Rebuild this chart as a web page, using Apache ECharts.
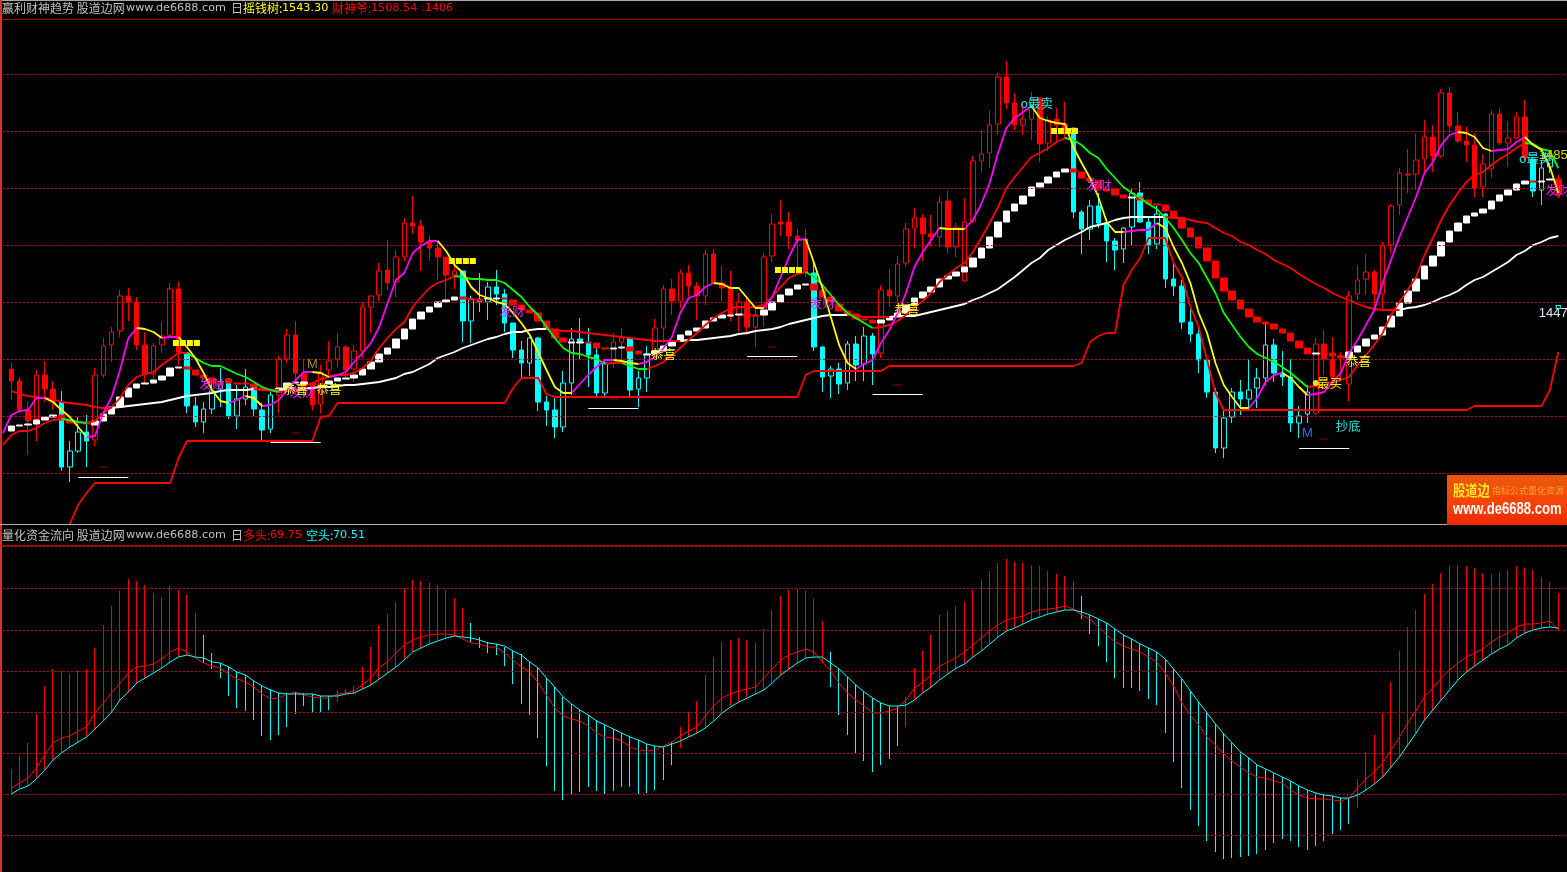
<!DOCTYPE html>
<html><head><meta charset="utf-8">
<style>html,body{margin:0;padding:0;background:#000;overflow:hidden}#c{width:1567px;height:872px}</style>
<script src="https://cdn.jsdelivr.net/npm/echarts@6/dist/echarts.min.js"></script>
</head><body><div id="c"></div>
<script>
// price rows: [open, close, low, high]
const candles = [
[631,619,600,637],[619,590,587,623],[590,579,545,598],[580,625,559,630],[625,611,598,639],[611,598,590,619],[598,533,529,609],[533,549,518,559],[549,568,547,583],[568,559,533,585],
[560,625,554,632],[625,654,622,662],[655,668,638,673],[669,704,663,710],[704,698,679,712],[698,655,650,703],[655,626,617,668],[626,654,621,657],[655,664,647,678],[665,711,663,717],
[711,648,635,718],[647,594,587,647],[594,578,573,603],[578,591,567,598],[591,609,586,622],[611,617,593,632],[621,584,581,621],[584,601,571,615],[601,613,595,631],[615,591,584,615],
[590,570,560,597],[571,605,567,608],[605,641,587,644],[641,665,637,671],[665,627,618,679],[626,615,603,640],[617,595,589,617],[596,628,587,635],[630,639,623,659],[641,653,633,667],
[653,630,623,655],[631,649,618,655],[649,693,642,698],[693,704,667,705],[705,729,699,737],[730,717,710,760],[718,743,703,750],[743,777,739,782],[777,774,766,804],[774,758,729,780],
[758,752,739,764],[752,743,720,758],[743,725,699,743],[725,729,711,737],[729,679,658,729],[679,701,657,704],[701,698,688,727],[698,713,680,718],[713,706,695,730],[706,677,668,711],
[677,650,642,677],[650,637,623,659],[637,662,624,663],[662,598,589,663],[598,590,574,604],[590,573,562,602],[573,617,568,629],[617,661,605,672],[661,658,641,682],[657,645,613,672],
[645,607,604,652],[607,637,602,639],[637,658,632,667],[658,662,638,672],[662,610,604,662],[611,622,593,629],[622,646,608,654],[647,672,645,681],[672,711,657,715],[711,699,685,721],
[699,727,692,731],[727,714,703,735],[714,704,680,718],[704,746,695,750],[746,717,717,751],[717,712,699,734],[712,684,679,729],[685,698,668,707],[698,673,665,703],[673,685,653,693],
[685,743,673,747],[744,776,738,786],[778,776,764,800],[778,764,751,788],[764,760,727,771],[761,728,723,771],[727,653,649,737],[653,623,608,654],[624,631,602,634],[631,616,606,637],
[617,656,610,659],[656,635,619,664],[636,664,619,673],[664,646,615,667],[647,710,642,715],[710,704,693,731],[704,736,693,744],[737,771,733,777],[772,782,752,792],[782,766,739,786],
[766,763,753,785],[763,798,753,804],[799,753,747,809],[753,773,743,777],[719,778,718,802],[779,839,777,844],[839,846,828,870],[847,875,832,889],[876,923,865,927],[923,897,891,939],
[897,875,870,907],[875,881,865,896],[881,902,860,908],[902,856,838,902],[857,880,849,884],[881,875,857,892],[876,867,862,898],[872,788,782,872],[788,771,746,790],[771,794,760,800],
[794,777,772,807],[777,759,738,782],[759,750,730,762],[751,772,737,773],[773,807,754,811],[807,778,777,818],[778,755,746,783],[756,786,751,794],[786,721,712,787],[721,714,704,737],
[714,678,671,720],[678,666,658,693],[666,640,627,673],[640,608,602,640],[608,552,547,612],[552,582,542,589],[583,608,577,612],[608,601,585,620],[601,610,592,641],[612,622,592,632],
[622,655,615,677],[655,627,618,661],[627,623,614,649],[623,577,568,641],[577,584,562,594],[586,608,577,615],[587,656,585,662],[656,641,625,670],[641,623,613,663],[644,643,622,648],
[616,704,599,709],[706,720,700,735],[721,728,705,746],[728,706,690,730],[706,754,690,758],[755,794,747,796],[795,827,785,832],[826,825,807,851],[826,840,810,866],[841,863,827,880],
[863,844,828,875],[844,907,842,911],[907,874,867,913],[874,859,857,888],[859,855,838,873],[855,812,803,867],[813,836,803,846],[831,886,822,890],[886,857,855,892],[857,862,833,879],
[862,883,861,888],[883,842,840,900],[841,809,803,841],[810,832,795,840],[833,841,827,848],[821,805,802,825]
];
const cyanRanges = [[6,9],[21,31],[54,71],[74,76],[96,103],[127,155],[182,184]];
// stepped ribbon rows: [open, close]
const ribbon = [
[569,574],[574,575],[575,576],[576,580],[580,583],[583,585],[585,580],[580,577],[578,577],[577,576],
[575,579],[579,586],[586,593],[593,603],[603,612],[612,616],[616,617],[617,620],[620,624],[624,632],
[632,633],[633,631],[630,625],[625,622],[622,617],[617,615],[621,617],[617,616],[617,616],[616,613],
[612,610],[610,609],[609,612],[611,617],[617,618],[616,618],[617,615],[616,614],[616,619],[619,622],
[621,622],[622,625],[625,631],[631,638],[638,646],[646,652],[652,661],[661,671],[671,681],[681,688],
[688,693],[693,698],[698,700],[700,703],[703,701],[701,700],[701,699],[701,702],[701,702],[702,701],
[700,695],[695,690],[690,687],[687,679],[679,671],[671,662],[662,658],[657,658],[657,658],[658,657],
[657,652],[652,651],[651,652],[652,653],[653,649],[649,646],[645,646],[646,649],[649,654],[654,659],
[659,665],[665,669],[669,672],[672,679],[679,682],[682,685],[684,685],[685,686],[686,684],[685,684],
[685,690],[690,698],[698,705],[705,711],[711,715],[715,716],[716,710],[710,703],[703,698],[696,689],
[689,686],[686,681],[681,680],[680,677],[677,680],[680,683],[683,687],[687,695],[695,702],[702,708],
[708,713],[713,721],[721,724],[724,728],[728,733],[733,742],[742,752],[752,763],[763,778],[778,789],
[789,796],[796,804],[804,813],[813,817],[817,823],[823,828],[828,831],[831,828],[828,822],[822,819],
[819,811],[811,809],[811,805],[805,802],[802,803],[803,800],[800,796],[796,795],[795,789],[789,782],
[782,772],[772,763],[763,752],[752,739],[739,722],[722,709],[709,700],[700,691],[691,683],[683,678],
[678,676],[676,671],[671,667],[667,659],[659,652],[652,646],[646,647],[647,646],[647,644],[644,642],
[642,648],[648,654],[654,661],[661,665],[665,673],[673,684],[684,697],[697,709],[709,721],[721,734],
[734,744],[744,758],[758,769],[769,777],[777,784],[784,787],[787,791],[791,799],[799,805],[805,810],
[810,816],[816,819],[819,818],[818,819],[820,821],[821,813]
];
const moneyTree = [567,
585,589,590,602,602,598,590,583,573,563,
564,587,603,630,662,672,671,668,662,663,
663,653,642,627,610,599,597,600,604,602,
594,595,600,610,620,628,628,627,623,625,
628,638,647,657,673,697,720,727,747,754,
759,759,749,735,727,713,705,702,698,696,
687,677,665,648,630,613,607,607,616,625,
633,640,640,639,637,636,638,643,652,663,
687,702,705,713,717,716,712,712,702,692,
692,703,723,743,760,761,737,712,683,655,
637,631,636,640,657,670,687,707,733,748,
760,772,771,771,771,780,796,817,847,872,
882,888,894,882,879,877,876,853,837,822,
803,778,768,768,769,770,770,777,772,753,
737,717,687,667,637,615,603,592,592,602,
618,625,627,622,613,605,606,608,618,627,
647,660,675,690,717,740,763,783,803,827,
838,855,865,868,867,863,852,849,850,851,
858,863,855,850,833,807];
const fortuneGod = [555,
565,569,569,572,577,580,581,580,578,577,
579,587,593,602,615,623,626,628,635,641,
647,647,642,637,634,634,630,626,623,618,
613,610,608,609,611,614,617,621,623,625,
625,627,632,639,652,662,671,678,693,703,
712,717,720,724,723,721,721,720,720,717,
710,703,693,685,673,662,652,647,646,643,
641,636,637,637,634,631,631,634,638,645,
652,660,667,675,682,687,692,693,693,693,
695,703,713,722,726,728,723,715,705,695,
687,682,677,672,673,675,679,685,693,699,
707,718,725,732,737,748,762,777,793,812,
823,833,843,847,852,858,862,860,855,847,
842,831,822,813,807,802,796,791,782,772,
760,747,737,722,707,687,675,663,653,646,
642,638,633,627,620,613,614,615,618,620,
623,635,645,655,667,685,698,710,723,745,
762,780,795,807,818,825,828,835,841,846,
852,857,856,851,849,832];
const longAverage = [null,
609,606,604,603,602,601,598,597,596,595,
593,592,592,593,594,595,596,597,598,600,
602,604,605,606,607,609,610,610,610,611,
610,610,610,611,611,612,612,613,613,614,
615,615,616,617,618,620,622,626,628,632,
636,642,645,648,652,655,658,661,663,666,
668,668,670,671,671,670,669,669,668,667,
666,665,664,663,662,661,660,659,659,659,
659,660,660,661,662,663,664,666,667,669,
670,671,673,676,678,680,682,684,685,685,
685,684,683,683,683,683,684,684,684,686,
688,690,692,694,696,700,703,707,711,717,
723,730,737,742,750,755,760,764,768,773,
775,777,780,782,783,783,783,783,783,782,
782,780,778,777,772,767,764,758,755,750,
746,740,736,732,726,721,716,712,707,703,
700,696,693,691,690,690,690,692,693,695,
698,702,705,709,715,720,723,728,733,738,
745,749,755,758,762,764];
const supportLine = [null,
null,null,null,null,null,null,null,476,495,507,
517,517,517,517,517,517,517,517,517,517,
542,559,559,559,559,559,559,559,559,559,
559,559,559,559,559,559,559,583,584,597,
597,597,597,597,597,597,597,597,597,597,
597,597,597,597,597,597,597,597,597,597,
612,622,622,622,606,603,603,603,603,603,
603,603,603,603,603,603,603,603,603,603,
603,603,603,603,603,603,603,603,603,603,
603,603,603,603,603,625,629,629,629,629,
629,629,629,629,629,634,634,634,634,634,
634,634,634,634,634,634,634,634,634,634,
634,634,634,634,634,634,634,634,637,658,664,
667,667,715,730,742,762,762,762,737,723,
693,673,640,607,590,590,590,590,590,590,
590,590,590,590,590,590,590,590,590,590,
590,590,590,590,590,590,590,590,590,590,
590,590,590,590,594,594,594,594,594,594,
594,594,594,610,648];
const gridLevelsTop = [526.5,583.5,640.5,697.5,754.5,811.5,868.5,925.5];
const gridLevelsLow = [164.5,205.5,246.5,287.5,328.5,369.5,411.5,453.5];
// capital-flow panel
const flowHigh = [
231,244,257,286,314,331,329,326,330,331,352,375,394,409,421,419,415,407,403,414,
410,405,387,365,347,337,333,328,325,320,315,311,307,307,308,307,306,304,304,309,
311,314,333,353,375,386,398,412,420,419,417,415,410,402,392,377,363,358,356,353,
349,346,338,332,322,313,303,296,290,285,280,275,271,267,264,260,256,254,253,258,
273,288,299,325,343,358,360,362,360,357,371,390,404,410,411,409,401,379,348,331,
323,315,308,302,297,294,294,303,332,349,365,385,389,394,398,410,420,429,437,441,
438,437,435,434,429,426,424,419,404,385,381,377,371,365,361,356,352,348,341,331,
321,309,298,287,276,266,257,248,242,235,231,227,223,219,214,210,207,205,204,202,
202,221,248,265,287,318,349,373,390,406,416,427,434,435,434,432,427,426,428,430,
434,432,430,423,418,407];
const flowLow = [
206,211,214,221,230,240,247,253,258,263,271,279,288,300,308,317,322,327,332,338,
343,345,343,337,331,322,304,292,289,280,264,260,265,273,286,294,287,288,290,298,
306,306,311,315,321,327,333,340,348,352,356,359,362,364,363,358,352,347,345,334,
316,296,285,262,234,209,200,206,208,213,209,206,209,213,213,206,207,210,220,235,
252,263,267,272,279,287,293,298,303,306,310,317,325,331,337,342,343,337,313,285,
265,247,239,228,235,241,254,273,301,307,313,320,326,332,336,343,349,356,363,369,
372,376,380,383,386,388,390,390,381,366,354,338,322,312,312,309,301,295,267,238,
212,190,174,159,148,141,142,143,144,146,150,157,161,159,153,150,154,159,166,170,
176,192,210,216,223,233,243,255,267,280,290,300,310,320,328,334,340,346,351,355,
362,367,370,372,373,370];
const bearLine = [
206,211,214,221,230,240,247,253,258,263,271,279,288,300,308,317,322,327,332,338,
343,345,343,342,338,337,333,328,325,319,314,310,307,306,306,306,306,304,304,304,
306,307,311,315,321,327,333,340,348,352,356,359,362,364,363,362,360,357,356,354,
349,345,338,332,322,313,303,296,290,285,279,275,271,267,263,260,256,254,253,256,
259,263,267,272,279,287,293,298,302,306,310,317,325,331,337,342,343,343,337,331,
323,315,308,302,297,294,294,295,300,307,313,320,326,332,336,343,349,356,363,369,
372,376,380,383,386,388,390,390,388,385,381,377,371,365,361,356,352,348,341,331,
321,309,298,287,276,266,257,248,242,235,231,227,223,219,214,210,207,205,204,202,
202,205,210,216,223,233,243,255,267,280,290,300,310,320,328,334,340,346,351,355,
362,367,370,372,373,372];
const bullLine = [
212,217,222,232,245,257,262,264,269,273,287,297,307,317,327,333,334,336,341,348,
352,348,342,337,334,332,326,321,318,313,306,301,302,306,308,305,303,302,302,306,
307,309,315,322,333,338,347,355,360,363,365,366,366,365,361,357,356,353,353,347,
340,333,328,317,305,292,284,281,279,274,267,263,262,259,253,250,249,250,254,258,
264,269,273,284,294,302,306,309,311,313,322,331,340,345,348,351,348,338,329,317,
307,300,294,287,287,289,292,300,312,318,325,334,338,342,348,355,362,369,375,380,
382,384,388,390,391,392,394,391,385,381,373,365,358,354,351,348,343,338,327,314,
297,285,275,263,255,246,239,233,227,223,222,219,217,210,205,202,201,201,200,199,
202,212,221,228,237,250,263,277,290,303,312,322,330,337,343,347,351,358,363,367,
373,376,376,377,379,370];
const flowRedRanges = [[0,22],[39,54],[80,97],[107,127],[161,185]];
const underlines = [[8,14,523],[31,37,558],[69,75,592],[88,94,644],[103,109,606],[154,160,552]];
const lowDashes = [[11,533],[34,567],[72,601],[91,653],[106,615],[157,561]];
const lowTick = [[185,693]];
const topSignals = [[21,657],[54,739],[93,730],[126,869]];
const buyDots = [[156,617]];
const notes = [
 [185,845,'1485','p',-5],[185,687,'1447','w',-5],
 [24,616,'发财','f',0],[35,608,'发财','f',-2],[60,689,'发财','f',-1],[97,697,'发财','f',0],[130,815,'发财','f',0.5],[185,810,'发财','f',0],
 [34,611,'恭喜','g',0],[38,611,'恭喜','g',0],[78,646,'恭喜','g',0],[107,691,'恭喜','g',1],[161,639,'恭喜','g',1],
 [123,897,'o最卖','s',-3],[182,842,'o最卖','s',2],[158,617,'最买','b',-3],[160,574,'抄底','c',-1],
 [36,636,'M','m1',0],[155,567,'M','m2',0]
];
const inRanges = (i,rs)=>rs.some(r=>i>=r[0]&&i<=r[1]);
function splitDir(v){
  const up=v.map(()=>null), down=v.map(()=>null); let dir=1;
  for(let i=0;i<v.length-1;i++){
    if(v[i]==null||v[i+1]==null) continue;
    if(v[i+1]>v[i]) dir=1; else if(v[i+1]<v[i]) dir=-1;
    const t=dir>0?up:down; t[i]=v[i]; t[i+1]=v[i+1];
  }
  return [up,down];
}
const pad = a=>[ '-', ...a ];
const cats = Array.from({length:188},(_,i)=>i);
const blank=['-','-','-','-'];
const candleRed = [blank,...candles.map((c,i)=>inRanges(i,cyanRanges)?blank:c)];
const candleCyan = [blank,...candles.map((c,i)=>inRanges(i,cyanRanges)?c:blank)];
const candleSeries=(data,col)=>({type:'candlestick',xAxisIndex:0,yAxisIndex:0,data,barWidth:5,z:2,silent:true,
  itemStyle:{color:'#000000',color0:col,borderColor:col,borderColor0:col,borderWidth:1}});
const ribbonData = pad(ribbon.map(r=>[r[0],r[1],Math.min(r[0],r[1]),Math.max(r[0],r[1])]));
const flowRow=(i,want)=>inRanges(i,flowRedRanges)===want?[flowLow[i],flowLow[i],flowLow[i],flowHigh[i]]:blank;
const flowRed=[blank,...flowHigh.map((_,i)=>flowRow(i,true))];
const flowCyan=[blank,...flowHigh.map((_,i)=>flowRow(i,false))];
const flowSeries=(data,col)=>({type:'candlestick',xAxisIndex:1,yAxisIndex:1,data,barWidth:1,z:2,silent:true,
  itemStyle:{color:col,color0:col,borderColor:col,borderColor0:col,borderColorDoji:col,borderWidth:1}});
const [treeUp,treeDown]=splitDir(moneyTree);
const [godUp,godDown]=splitDir(fortuneGod);
const [avgUp,avgDown]=splitDir(longAverage);
const lineS=(data,color,z,xi,w)=>({type:'line',data,xAxisIndex:xi||0,yAxisIndex:xi||0,showSymbol:false,symbol:'none',z,silent:true,
  lineStyle:{color,width:w||1.8},itemStyle:{color},connectNulls:false,animation:false});
const noteStyle={
 p:{color:'#d8d800',fontFamily:'Liberation Sans',fontSize:13},
 w:{color:'#d8e8ff',fontFamily:'Liberation Sans',fontSize:13},
 f:{color:'#f020f8',fontFamily:'Noto Sans CJK SC',fontSize:12.5,textShadowColor:'#3030ff',textShadowOffsetX:-1,textShadowBlur:0},
 g:{color:'#ffff20',fontFamily:'Noto Sans CJK SC',fontSize:12.5},
 s:{color:'#20e8e8',fontFamily:'Noto Sans CJK SC',fontSize:12.5},
 b:{color:'#ffe800',fontFamily:'Noto Sans CJK SC',fontSize:12.5},
 c:{color:'#20e0e0',fontFamily:'Noto Sans CJK SC',fontSize:12.5},
 m1:{color:'#a08830',fontFamily:'Liberation Sans',fontSize:13},
 m2:{color:'#5060e0',fontFamily:'Liberation Sans',fontSize:13}
};
const noteData=notes.map(n=>({value:[n[0]+1,n[1]],label:Object.assign({show:true,position:'inside',offset:[n[4],0],formatter:n[2]},noteStyle[n[3]])}));
const signalOffsets=[-11,-4,3,10];
const signalSeries=signalOffsets.map(dx=>({type:'scatter',xAxisIndex:0,yAxisIndex:0,z:7,silent:true,symbol:'rect',symbolSize:[6,6],symbolOffset:[dx,0],
  itemStyle:{color:'#ffff00',opacity:1},data:topSignals.map(d=>[d[0]+1,d[1]])}));
const txt=(x,y,t,fill,font,o)=>Object.assign({type:'text',left:x,top:y,z:100,style:{text:t,fill,font}},o||{});
const rect=(x,y,w,h,fill)=>({type:'rect',shape:{x,y,width:w,height:h},style:{fill},z:90,silent:true});
const cjk='12px "Noto Sans CJK SC"', lat2='11.2px "DejaVu Sans"';
const graphic=[
 rect(0,0,1567,1,'#a8a8a8'),rect(0,19,1567,1,'#b00000'),rect(0,0,2,872,'#d83030'),
 rect(0,524,1567,1,'#b0b0b0'),rect(0,545,1567,1,'#c00000'),
 rect(1447,475,120,50,{type:'linear',x:0,y:0,x2:0,y2:1,colorStops:[{offset:0,color:'#e85a10'},{offset:0.6,color:'#f84008'},{offset:1,color:'#f02800'}]}),
 txt(2,2,'赢利财神趋势 股道边网','#c0c0c0',cjk),txt(126,3,'www.de6688.com','#c0c0c0',lat2),txt(231,2,'日','#c0c0c0',cjk),
 txt(243,2,'摇钱树:','#ffff00',cjk),txt(282,3,'1543.30','#ffff00',lat2),
 txt(332,2,'财神爷:','#ff0000',cjk),txt(371,3,'1508.54','#ff0000',lat2),txt(421,3,':1406','#ff0000',lat2),
 txt(2,529,'量化资金流向 股道边网','#c0c0c0',cjk),txt(126,530,'www.de6688.com','#c0c0c0',lat2),txt(231,529,'日','#c0c0c0',cjk),
 txt(243,529,'多头:','#ff0000',cjk),txt(270,530,'69.75','#ff0000',lat2),
 txt(306,529,'空头:','#00ffff',cjk),txt(333,530,'70.51','#00ffff',lat2),
 {type:'text',x:1453,y:483,scaleX:0.82,z:100,style:{text:'股道边',fill:'#ffe820',font:'bold 15px "Noto Sans CJK SC"'}},
 txt(1492,486,'指标公式量化资源','#ffa030','9px "Noto Sans CJK SC"'),
 {type:'text',x:1453,y:501,scaleX:0.77,z:100,style:{text:'www.de6688.com',fill:'#ffffff',font:'bold 17px "Liberation Sans"'}}
];
const axisOff={show:false};
const dotted={color:'#e00000',type:[2,2],width:1};
const option={
 backgroundColor:'#000',animation:false,
 grid:[{left:-1.24,top:0,width:1572.06,height:524,outerBoundsMode:'none'},{left:-1.24,top:524,width:1572.06,height:348,outerBoundsMode:'none'}],
 xAxis:[{type:'category',gridIndex:0,data:cats,show:false,boundaryGap:true},{type:'category',gridIndex:1,data:cats,show:false,boundaryGap:true}],
 yAxis:[{type:'value',gridIndex:0,min:476,max:1000,show:false,splitLine:axisOff},{type:'value',gridIndex:1,min:128,max:476,show:false,splitLine:axisOff}],
 graphic,
 series:[
  Object.assign(candleSeries(candleRed,'#ff0000'),{markLine:{silent:true,symbol:'none',label:{show:false},animation:false,lineStyle:dotted,data:gridLevelsTop.map(v=>({yAxis:v}))}}),
  candleSeries(candleCyan,'#00ffff'),
  {type:'candlestick',xAxisIndex:0,yAxisIndex:0,data:ribbonData,barWidth:7,z:3,silent:true,
   itemStyle:{color:'#ffffff',color0:'#ff0000',borderColor:'#ffffff',borderColor0:'#ff0000',borderWidth:1}},
  lineS(supportLine,'#ff0000',4),
  lineS(avgUp,'#ffffff',4),lineS(avgDown,'#ff0000',4),
  lineS(godUp,'#ff0000',5),lineS(godDown,'#00ff00',5),
  lineS(treeUp,'#ff00ff',6),lineS(treeDown,'#ffff00',6),
  {type:'scatter',xAxisIndex:0,yAxisIndex:0,z:8,symbolSize:1,itemStyle:{color:'transparent',opacity:1},silent:true,data:noteData,
   markLine:{silent:true,symbol:'none',label:{show:false},animation:false,lineStyle:{color:'#ffffff',type:'solid',width:1},
     data:underlines.map(u=>[{xAxis:u[0]+1,yAxis:u[2]},{xAxis:u[1]+1,yAxis:u[2]}])}},
  ...signalSeries,
  {type:'scatter',xAxisIndex:0,yAxisIndex:0,z:7,symbol:'circle',symbolSize:6,itemStyle:{color:'#ffe000',opacity:1},silent:true,data:buyDots.map(d=>[d[0]+1,d[1]])},
  {type:'scatter',xAxisIndex:0,yAxisIndex:0,z:3,symbol:'rect',symbolSize:[9,1],itemStyle:{color:'#900000',opacity:1},silent:true,data:lowDashes.map(d=>[d[0]+1,d[1]])},
  {type:'scatter',xAxisIndex:0,yAxisIndex:0,z:3,symbol:'rect',symbolSize:[4,3],itemStyle:{color:'#000',borderColor:'#00ffff',borderWidth:1,opacity:1},silent:true,data:lowTick.map(d=>[d[0]+1,d[1]])},
  Object.assign(flowSeries(flowRed,'#ff0000'),{markLine:{silent:true,symbol:'none',label:{show:false},animation:false,lineStyle:dotted,data:gridLevelsLow.map(v=>({yAxis:v}))}}),
  flowSeries(flowCyan,'#00ffff'),
  lineS(pad(bullLine).map(v=>v==='-'?null:v),'#ff0000',4,1,1),
  lineS(pad(bearLine).map(v=>v==='-'?null:v),'#00ffff',5,1,1)
 ]
};
const chart=echarts.init(document.getElementById('c'),null,{renderer:'canvas'});
chart.setOption(option);
</script></body></html>
